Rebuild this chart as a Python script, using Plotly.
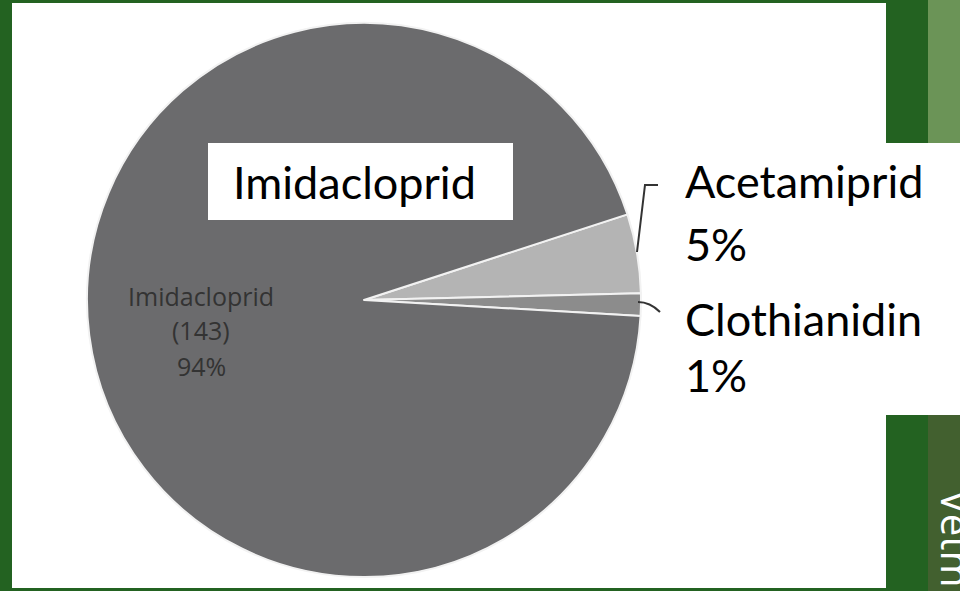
import plotly.graph_objects as go

# data
labels = ["Acetamiprid", "Clothianidin", "Imidacloprid"]
counts = [7, 2, 143]
pct_labels = ["5%", "1%", "94%"]
slice_colors = ["#b4b4b4", "#8c8c8c", "#6b6b6d"]

W, H = 960, 591
GREEN = "#236221"


def px(x):
    return x / W


def py(y):
    return 1 - y / H


fig = go.Figure()

fig.add_trace(go.Pie(
    labels=labels,
    values=counts,
    sort=False,
    direction="clockwise",
    rotation=72,
    textinfo="none",
    hoverinfo="label+value+percent",
    marker=dict(colors=slice_colors, line=dict(color="#f2f2f2", width=2)),
    domain=dict(x=[px(364 - 277), px(364 + 277)], y=[py(300 + 277), py(300 - 277)]),
    showlegend=False,
))

shapes = [
    # white slide panel
    dict(type="rect", xref="paper", yref="paper", x0=px(12), x1=px(886), y0=py(588), y1=py(3),
         fillcolor="white", line_width=0, layer="below"),
    # right side strips
    dict(type="rect", xref="paper", yref="paper", x0=px(928), x1=1, y0=py(143), y1=1,
         fillcolor="#6b9457", line_width=0, layer="below"),
    dict(type="rect", xref="paper", yref="paper", x0=px(886), x1=1, y0=py(415), y1=py(143),
         fillcolor="white", line_width=0, layer="below"),
    dict(type="rect", xref="paper", yref="paper", x0=px(928), x1=1, y0=0, y1=py(415),
         fillcolor="#42602f", line_width=0, layer="below"),
    # box behind big label
    dict(type="rect", xref="paper", yref="paper", x0=px(208), x1=px(513), y0=py(220), y1=py(143),
         fillcolor="white", line_width=0, layer="above"),
    # leader lines
    dict(type="path", xref="paper", yref="paper",
         path=f"M {px(658)},{py(185)} L {px(645)},{py(185)} L {px(637)},{py(252)}",
         line=dict(color="#333333", width=2)),
    dict(type="path", xref="paper", yref="paper",
         path=f"M {px(638)},{py(302)} Q {px(650)},{py(302)} {px(660)},{py(312)}",
         line=dict(color="#333333", width=2)),
]

FONT = "Lato"
BIG = 45
annotations = [
    dict(x=px(231), y=py(182), text=labels[2], xanchor="left", yanchor="middle",
         font=dict(family=FONT, size=BIG, color="black")),
    dict(x=px(683), y=py(181), text=labels[0], xanchor="left", yanchor="middle",
         font=dict(family=FONT, size=BIG, color="black")),
    dict(x=px(683), y=py(244), text=pct_labels[0], xanchor="left", yanchor="middle",
         font=dict(family=FONT, size=BIG, color="black")),
    dict(x=px(683), y=py(319), text=labels[1], xanchor="left", yanchor="middle",
         font=dict(family=FONT, size=BIG, color="black")),
    dict(x=px(683), y=py(375), text=pct_labels[1], xanchor="left", yanchor="middle",
         font=dict(family=FONT, size=BIG, color="black")),
    # small label inside the big slice
    dict(x=px(201), y=py(296), text=labels[2], xanchor="center", yanchor="middle",
         font=dict(family="Open Sans", size=25, color="#333333")),
    dict(x=px(201), y=py(330), text=f"({counts[2]})", xanchor="center", yanchor="middle",
         font=dict(family="Open Sans", size=25, color="#333333")),
    dict(x=px(201), y=py(366), text=pct_labels[2], xanchor="center", yanchor="middle",
         font=dict(family="Open Sans", size=25, color="#333333")),
    # rotated text on the slide edge, partly off the page as in the photo
    dict(x=px(957), y=py(488), text="Vetm", textangle=90, xanchor="center", yanchor="top",
         font=dict(family="Open Sans", size=40, color="white")),
]

fig.update_layout(
    width=W, height=H,
    margin=dict(l=0, r=0, t=0, b=0),
    paper_bgcolor=GREEN,
    plot_bgcolor=GREEN,
    shapes=shapes,
    annotations=[dict(a, xref="paper", yref="paper", showarrow=False) for a in annotations],
)

# drop the browser's default page margin so the figure sits at the window corner
fig.write_html("out.html", config={"displayModeBar": False},
               post_script="document.body.style.margin='0';document.body.style.overflow='hidden';")
